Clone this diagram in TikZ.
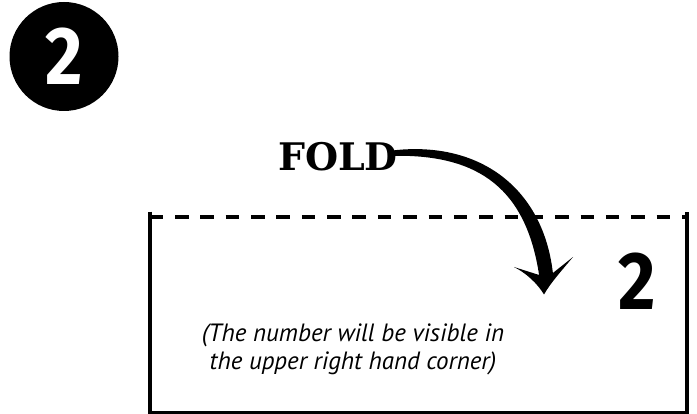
\documentclass[tikz,border=0pt]{standalone}
\usepackage{fontspec}
\newfontfamily\digitfont{Fira Sans}
\newfontfamily\foldfont{DejaVu Serif}
\newfontfamily\notefont{PT Sans}
\newcommand\narrowdigit[1]{\scalebox{0.88}[1]{#1}}
\tikzset{
  frame/.style={line width=4pt},
  foldline/.style={line width=4pt, dash pattern=on 13.5pt off 11.85pt},
  bigdigit/.style={inner sep=0pt, anchor=base, font=\digitfont\bfseries\fontsize{82}{82}\selectfont},
  foldlabel/.style={inner sep=0pt, anchor=base west, font=\foldfont\bfseries\fontsize{38}{38}\selectfont},
  note/.style={inner sep=0pt, anchor=base, font=\notefont\itshape\fontsize{25}{25}\selectfont},
}
\begin{document}
\begin{tikzpicture}[x=1pt,y=-1pt]
\fill[white] (0,0) rectangle (697,414);
\useasboundingbox (0,0) rectangle (697,414);
% step badge
\fill[black] (64,56.5) circle (54.5);
\node[bigdigit, text=white] (badge) at (63.8,84.7) {\narrowdigit{2}};
% fold label
\node[foldlabel] (fold) at (278,170.5) {FOLD};
% paper
\draw[frame] (150.3,211.7) -- (150.3,413) -- (687,413) -- (687,211.7);
\draw[foldline] (149.65,217) -- (685,217);
% number on paper
\node[bigdigit, text=black] (corner) at (637.5,310) {\narrowdigit{2}};
% notes
\node[note] (note1) at (353,341.5) {(The number will be visible in};
\node[note] (note2) at (353,370) {the upper right hand corner)};
% fold arrow
\fill[black] (394.9,150.2) .. controls (479.6,141.25) and (543,187.7) .. (552.9,273)
  -- (573,257) .. controls (560.5,272) and (550.5,283) .. (544,294.5)
  .. controls (537,283) and (526,273) .. (514,267)
  -- (539.1,275) .. controls (526.2,190.1) and (480.3,154.75) .. (395.1,155.8)
  .. controls (391.2,155.8) and (391.2,150.2) .. (394.9,150.2) -- cycle;
\end{tikzpicture}
\end{document}
